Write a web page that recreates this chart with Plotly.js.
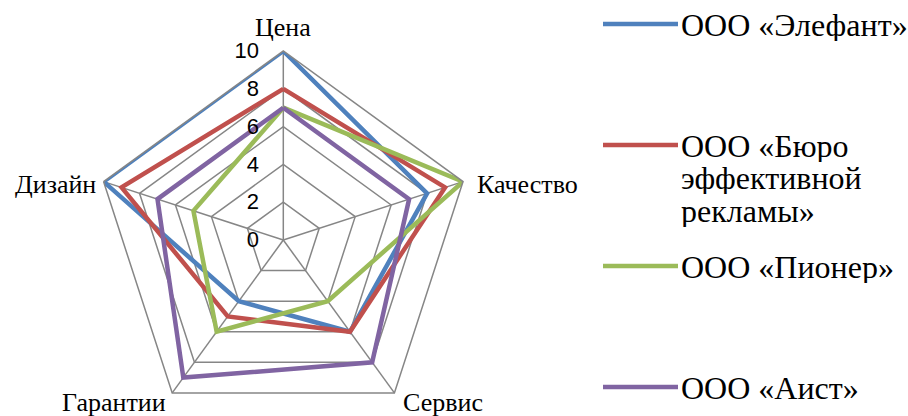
<!DOCTYPE html>
<html><head><meta charset="utf-8">
<script src="https://cdn.plot.ly/plotly-3.0.1.min.js"></script>
<style>html,body{margin:0;padding:0;overflow:hidden;background:#fff}</style>
</head><body><div id="chart" style="width:908px;height:440px"></div>
<script>
const categories = ["Цена","Качество","Сервис","Гарантии","Дизайн"];
const seriesNames = ["ООО «Элефант»","ООО «Бюро эффективной рекламы»","ООО «Пионер»","ООО «Аист»"];
const elefant = [10,8,6,4,10];
const buro = [8,9,6,5,9];
const pioner = [7,10,4,6,5];
const aist = [7,7,8,9,7];
const radialTicks = [0,2,4,6,8,10];
const legendLines = [["ООО «Элефант»"],["ООО «Бюро","эффективной","рекламы»"],["ООО «Пионер»"],["ООО «Аист»"]];

const colors = ["#4F81BD","#C0504D","#9BBB59","#8064A2"];
const SERIF = "Liberation Serif";
const W = 908, H = 440;
const px = x => x / W;
const py = y => (H - y) / H;

const allSeries = [elefant, buro, pioner, aist];
const traces = allSeries.map((vals, i) => ({
  type: "scatterpolar",
  mode: "lines",
  name: seriesNames[i],
  r: vals.concat([vals[0]]),
  theta: categories.concat([categories[0]]),
  line: {color: colors[i], width: 4.5},
  showlegend: false
}));

const shapes = [];
const annotations = [];

const catLabelPos = [
  {x: 283, y: 27, xa: "center"},
  {x: 475, y: 184, xa: "left"},
  {x: 443, y: 402, xa: "center"},
  {x: 114, y: 402, xa: "center"},
  {x: 98, y: 184, xa: "right"}
];
categories.forEach((c, i) => {
  const p = catLabelPos[i];
  annotations.push({xref: "paper", yref: "paper", x: px(p.x), y: py(p.y),
    xanchor: p.xa, yanchor: "middle", showarrow: false, text: c,
    font: {family: SERIF, size: 26, color: "#000"}});
});

const legendY = [24, 145, 266, 387];
legendLines.forEach((lines, i) => {
  shapes.push({type: "line", xref: "paper", yref: "paper",
    x0: px(603), x1: px(678), y0: py(legendY[i]), y1: py(legendY[i]),
    line: {color: colors[i], width: 4.5}});
  lines.forEach((t, j) => {
    annotations.push({xref: "paper", yref: "paper", x: px(679), y: py(legendY[i] + 1 + j * 32.5),
      xanchor: "left", yanchor: "middle", showarrow: false, text: t, height: 32,
      font: {family: SERIF, size: 32, color: "#000"}});
  });
});

const layout = {
  width: W, height: H,
  margin: {l: 0, r: 0, t: 0, b: 0},
  paper_bgcolor: "#fff",
  showlegend: false,
  polar: {
    domain: {x: [px(94.3), px(472.3)], y: [py(429), py(51)]},
    bgcolor: "#fff",
    gridshape: "linear",
    radialaxis: {
      range: [0, 10], tickvals: radialTicks, ticktext: radialTicks.map(String),
      angle: 90, tickangle: 90, side: "counterclockwise",
      ticks: "outside", ticklen: 16, tickcolor: "rgba(0,0,0,0)",
      showline: false, gridcolor: "#868686", gridwidth: 1.5,
      tickfont: {family: "Liberation Sans", size: 22, color: "#000"}
    },
    angularaxis: {
      type: "category", direction: "clockwise", rotation: 90,
      showline: true, linecolor: "#868686", linewidth: 1.5,
      gridcolor: "#868686", gridwidth: 1.5, ticks: "", showticklabels: false
    }
  },
  shapes: shapes,
  annotations: annotations
};
Plotly.newPlot("chart", traces, layout, {displayModeBar: false, staticPlot: true});
</script></body></html>
